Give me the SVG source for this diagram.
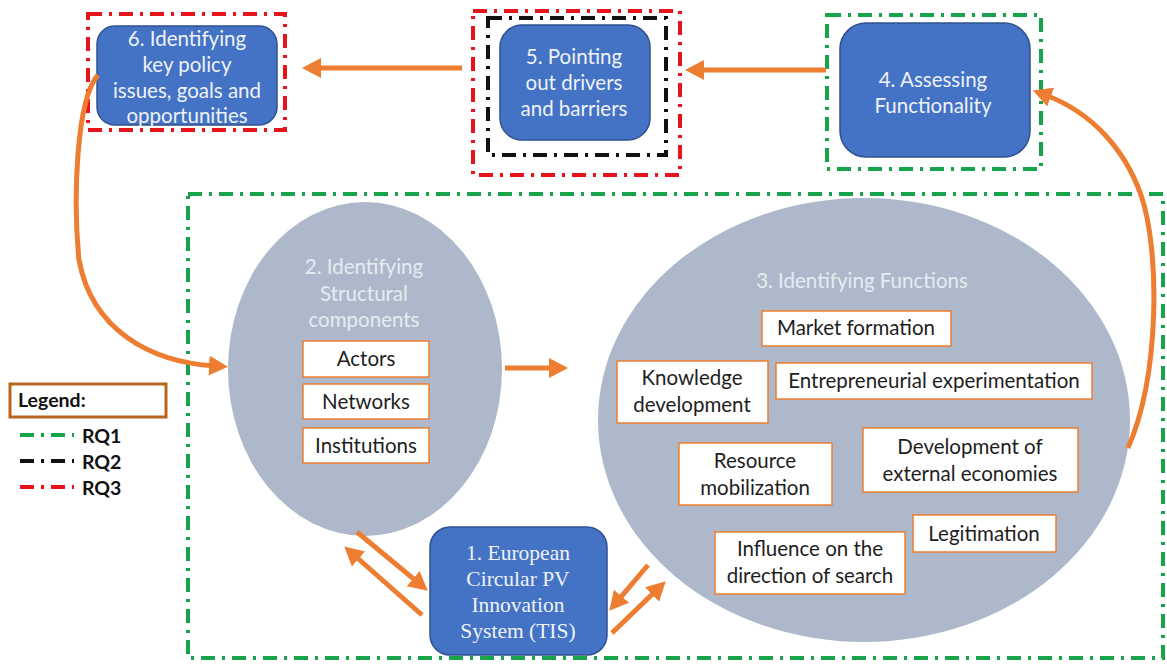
<svg xmlns="http://www.w3.org/2000/svg" width="1167" height="664" viewBox="0 0 1167 664">
  <defs>
    <style>
      .rq { fill: none; stroke-width: 4; stroke-dasharray: 14 7 3 7; }
      .rq1 { stroke: #17a34a; }
      .rq2 { stroke: #111111; }
      .rq3 { stroke: #e8141b; }
      .step { fill: #4472c4; stroke: #2f528f; stroke-width: 1.5; }
      .step-txt { font-family: Lato, "Liberation Sans", sans-serif; font-size: 20.5px; fill: #eef2f9; text-anchor: middle; }
      .serif-txt { font-family: "Liberation Serif", serif; font-size: 21.5px; fill: #eef2f9; text-anchor: middle; }
      .oval { fill: #adb9ca; }
      .oval-txt { font-family: Lato, "Liberation Sans", sans-serif; font-size: 20.5px; fill: #e6ebf3; text-anchor: middle; }
      .item { fill: #ffffff; stroke: #ed7d31; stroke-width: 1.5; }
      .item-txt { font-family: Lato, "Liberation Sans", sans-serif; font-size: 20.5px; fill: #1e1e1e; text-anchor: middle; }
      .flow { fill: none; stroke: #ed7d31; stroke-width: 5; marker-end: url(#head); }
      .legend-txt { font-family: Lato, "Liberation Sans", sans-serif; font-weight: bold; font-size: 19.5px; fill: #111111; }
    </style>
    <marker id="head" markerUnits="userSpaceOnUse" markerWidth="22" markerHeight="22" refX="6" refY="10" orient="auto">
      <path d="M0,0 L19,10 L0,20 Z" fill="#ed7d31"/>
    </marker>
  </defs>

  <rect width="1167" height="664" fill="#ffffff"/>

  <!-- RQ1 frame around the system analysis -->
  <rect id="frame-rq1" class="rq rq1" x="188" y="194" width="975" height="464"/>

  <!-- 2. structural components -->
  <g id="node-structural">
    <ellipse class="oval" cx="365" cy="369" rx="137" ry="167"/>
    <text class="oval-txt" x="364" y="274">2. Identifying</text>
    <text class="oval-txt" x="364" y="301">Structural</text>
    <text class="oval-txt" x="364" y="327">components</text>
    <rect class="item" x="303" y="341" width="126" height="36"/>
    <text class="item-txt" x="366" y="366">Actors</text>
    <rect class="item" x="303" y="384" width="126" height="35"/>
    <text class="item-txt" x="366" y="409">Networks</text>
    <rect class="item" x="303" y="428" width="126" height="35"/>
    <text class="item-txt" x="366" y="453">Institutions</text>
  </g>

  <!-- 3. functions -->
  <g id="node-functions">
    <ellipse class="oval" cx="864" cy="420" rx="266" ry="222"/>
    <text class="oval-txt" x="862" y="288">3. Identifying Functions</text>
    <rect class="item" x="762" y="311" width="189" height="35"/>
    <text class="item-txt" x="856" y="335">Market formation</text>
    <rect class="item" x="617" y="361" width="151" height="62"/>
    <text class="item-txt" x="692" y="385">Knowledge</text>
    <text class="item-txt" x="692" y="412">development</text>
    <rect class="item" x="776" y="363" width="316" height="36"/>
    <text class="item-txt" x="934" y="388">Entrepreneurial experimentation</text>
    <rect class="item" x="679" y="443" width="153" height="62"/>
    <text class="item-txt" x="755" y="468">Resource</text>
    <text class="item-txt" x="755" y="495">mobilization</text>
    <rect class="item" x="863" y="428" width="215" height="64"/>
    <text class="item-txt" x="970" y="454">Development of</text>
    <text class="item-txt" x="970" y="481">external economies</text>
    <rect class="item" x="913" y="515" width="143" height="37"/>
    <text class="item-txt" x="984" y="541">Legitimation</text>
    <rect class="item" x="715" y="532" width="190" height="62"/>
    <text class="item-txt" x="810" y="556">Influence on the</text>
    <text class="item-txt" x="810" y="583">direction of search</text>
  </g>

  <!-- 1. the innovation system -->
  <g id="node-tis">
    <rect class="step" x="430" y="527" width="177" height="128" rx="20"/>
    <text class="serif-txt" x="518" y="560">1. European</text>
    <text class="serif-txt" x="518" y="586">Circular PV</text>
    <text class="serif-txt" x="518" y="612">Innovation</text>
    <text class="serif-txt" x="518" y="638">System (TIS)</text>
  </g>

  <!-- 4. functionality -->
  <g id="node-functionality">
    <rect class="rq rq1" x="827" y="15" width="214" height="154"/>
    <rect class="step" x="840" y="23" width="190" height="134" rx="26"/>
    <text class="step-txt" x="933" y="87">4. Assessing</text>
    <text class="step-txt" x="933" y="113">Functionality</text>
  </g>

  <!-- 5. drivers and barriers -->
  <g id="node-drivers">
    <rect class="rq rq3" x="473" y="11" width="207" height="164"/>
    <rect class="rq rq2" x="488" y="18" width="178" height="137"/>
    <rect class="step" x="500" y="25" width="150" height="115" rx="22"/>
    <text class="step-txt" x="574" y="64">5. Pointing</text>
    <text class="step-txt" x="574" y="90">out drivers</text>
    <text class="step-txt" x="574" y="116">and barriers</text>
  </g>

  <!-- 6. policy issues -->
  <g id="node-policy">
    <rect class="rq rq3" x="88" y="14" width="197" height="116"/>
    <rect class="step" x="97" y="26" width="180" height="99" rx="18"/>
    <text class="step-txt" x="187" y="46">6. Identifying</text>
    <text class="step-txt" x="187" y="72">key policy</text>
    <text class="step-txt" x="187" y="98">issues, goals and</text>
    <text class="step-txt" x="187" y="123">opportunities</text>
  </g>

  <!-- connectors -->
  <g id="connectors">
    <line class="flow" x1="826" y1="70" x2="698" y2="70"/>
    <line class="flow" x1="462" y1="68" x2="315" y2="68"/>
    <line class="flow" x1="505" y1="368" x2="555" y2="368"/>
    <path class="flow" d="M98,75 C76,100 73,200 79,260 C92,330 150,362 215,366"/>
    <path class="flow" d="M1128,448 C1160,375 1160,250 1141,195 C1125,150 1092,112 1045,95"/>
    <line class="flow" x1="357" y1="532" x2="417.8" y2="582.4"/>
    <line class="flow" x1="422" y1="615" x2="354" y2="555"/>
    <line class="flow" x1="648" y1="565" x2="617.7" y2="600.8"/>
    <line class="flow" x1="612" y1="633" x2="656.4" y2="590.3"/>
  </g>

  <!-- legend -->
  <g id="legend">
    <rect x="10" y="384" width="156" height="33" fill="#ffffff" stroke="#b8651f" stroke-width="3"/>
    <text class="legend-txt" x="18" y="407">Legend:</text>
    <line class="rq rq1" x1="20" y1="435" x2="74" y2="435" stroke-dasharray="14 10 3 10"/>
    <text class="legend-txt" x="82" y="443">RQ1</text>
    <line class="rq rq2" x1="20" y1="461" x2="74" y2="461" stroke-dasharray="14 10 3 10"/>
    <text class="legend-txt" x="82" y="469">RQ2</text>
    <line class="rq rq3" x1="20" y1="487" x2="74" y2="487" stroke-dasharray="14 10 3 10"/>
    <text class="legend-txt" x="82" y="495">RQ3</text>
  </g>
</svg>
